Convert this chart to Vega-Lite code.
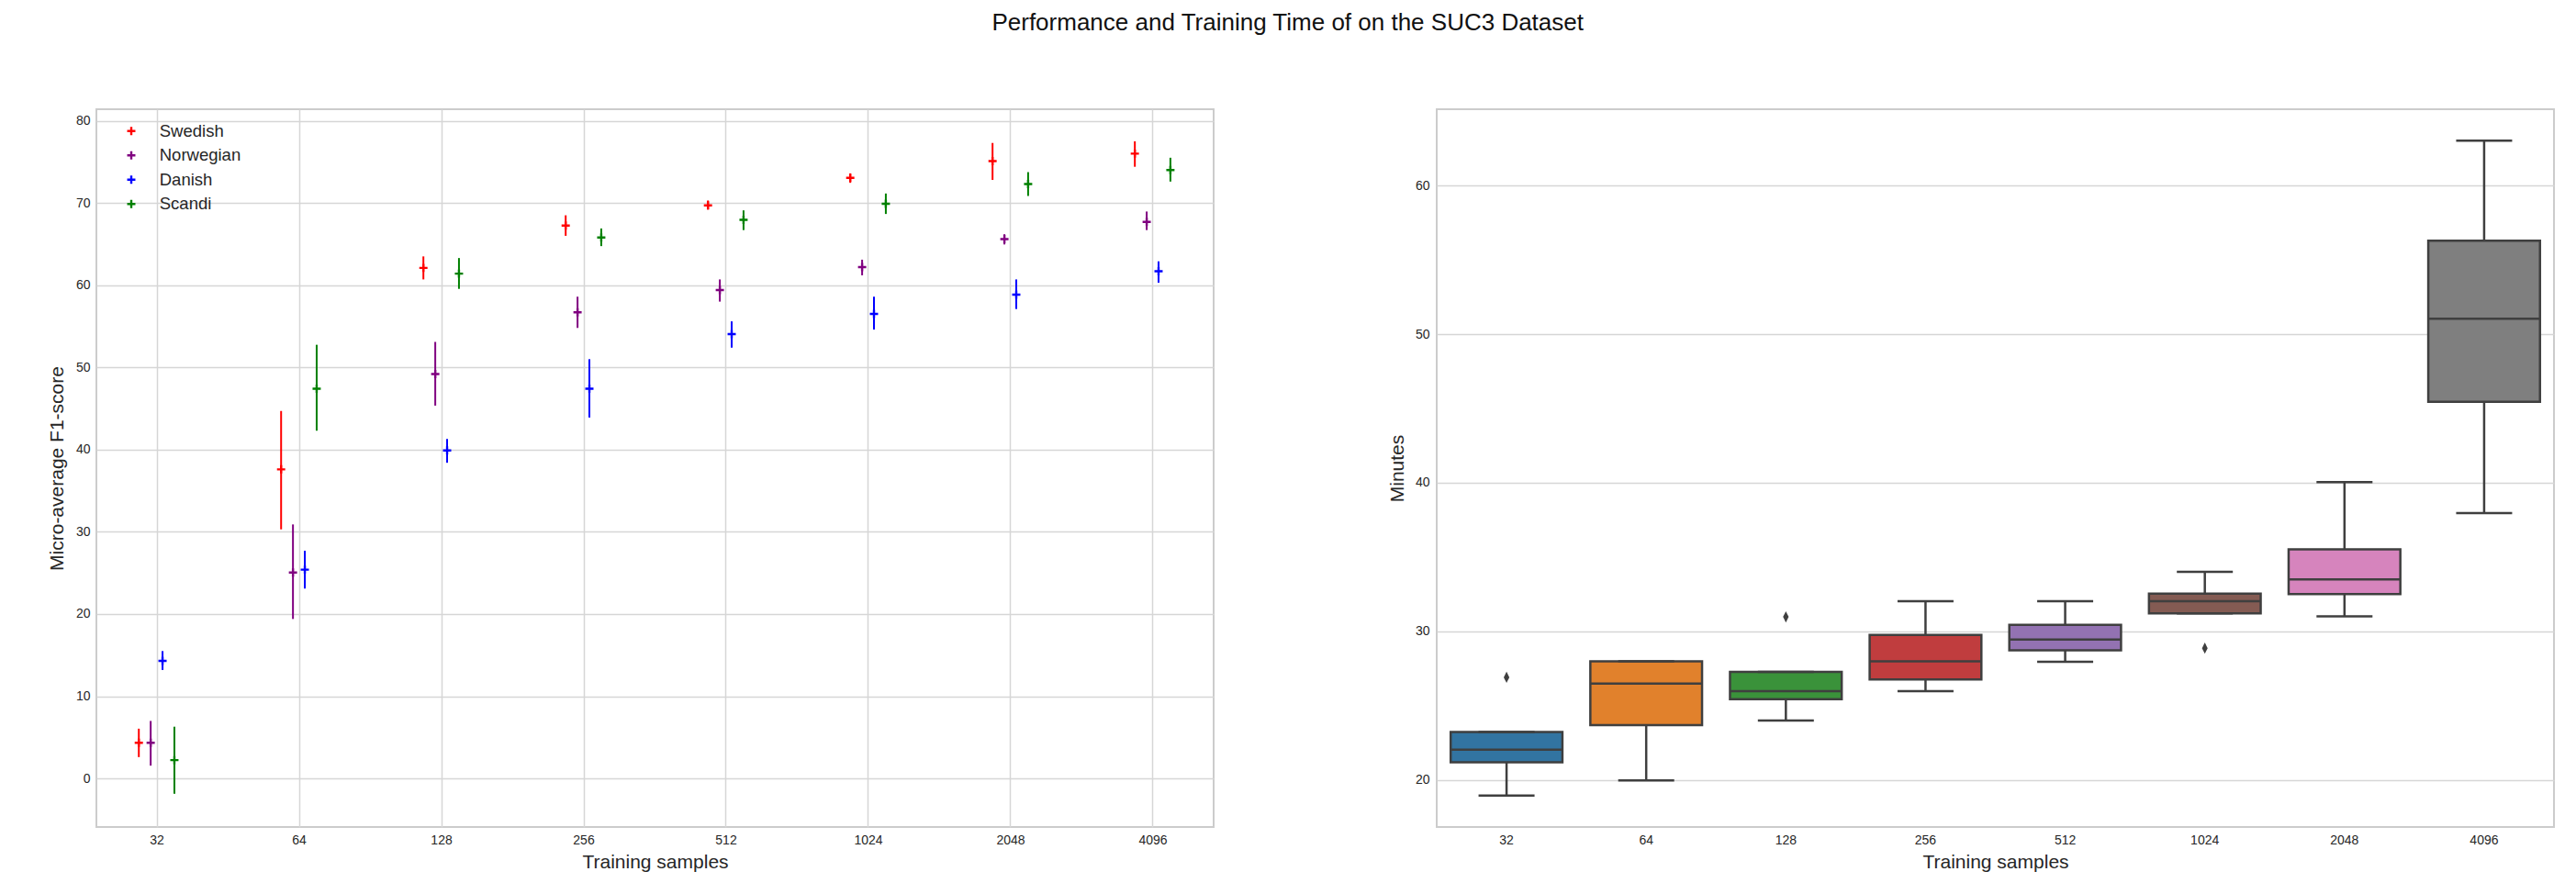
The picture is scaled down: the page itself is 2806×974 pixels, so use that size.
{
  "$schema": "https://vega.github.io/schema/vega-lite/v6.json",
  "background": "white",
  "padding": {"left": 50, "top": 12, "right": 25, "bottom": 5},
  "title": {"text": "Performance and Training Time of on the SUC3 Dataset", "fontSize": 26, "font": "Liberation Sans", "fontWeight": "normal", "color": "#111111", "anchor": "middle", "offset": 80, "dx": -14},
  "resolve": {"scale": {"color": "independent"}, "legend": {"color": "independent"}},
  "config": {
    "font": "Liberation Sans",
    "view": {"stroke": "#cccccc", "strokeWidth": 2},
    "axis": {"gridColor": "#d6d6d6", "gridWidth": 1.5, "domain": false, "ticks": false, "tickSize": 0, "labelFontSize": 14, "labelColor": "#262626", "titleFontSize": 21, "titleFontWeight": "normal", "titleColor": "#262626", "labelPadding": 7, "titlePadding": 10}
  },
  "datasets": {
    "scores": [
      {"samples": 32, "language": "Swedish", "mean": 4.35, "low": 2.6, "high": 6.06},
      {"samples": 32, "language": "Norwegian", "mean": 4.35, "low": 1.56, "high": 7.0},
      {"samples": 32, "language": "Danish", "mean": 14.3, "low": 13.2, "high": 15.5},
      {"samples": 32, "language": "Scandi", "mean": 2.23, "low": -1.86, "high": 6.3},
      {"samples": 64, "language": "Swedish", "mean": 37.6, "low": 30.3, "high": 44.7},
      {"samples": 64, "language": "Norwegian", "mean": 25.05, "low": 19.4, "high": 30.9},
      {"samples": 64, "language": "Danish", "mean": 25.4, "low": 23.1, "high": 27.7},
      {"samples": 64, "language": "Scandi", "mean": 47.4, "low": 42.3, "high": 52.75},
      {"samples": 128, "language": "Swedish", "mean": 62.1, "low": 60.7, "high": 63.5},
      {"samples": 128, "language": "Norwegian", "mean": 49.2, "low": 45.35, "high": 53.1},
      {"samples": 128, "language": "Danish", "mean": 39.9, "low": 38.4, "high": 41.3},
      {"samples": 128, "language": "Scandi", "mean": 61.4, "low": 59.55, "high": 63.3},
      {"samples": 256, "language": "Swedish", "mean": 67.25, "low": 66.0, "high": 68.5},
      {"samples": 256, "language": "Norwegian", "mean": 56.7, "low": 54.8, "high": 58.6},
      {"samples": 256, "language": "Danish", "mean": 47.4, "low": 43.9, "high": 51.0},
      {"samples": 256, "language": "Scandi", "mean": 65.8, "low": 64.75, "high": 66.9},
      {"samples": 512, "language": "Swedish", "mean": 69.7, "low": 69.2, "high": 70.3},
      {"samples": 512, "language": "Norwegian", "mean": 59.4, "low": 58.0, "high": 60.7},
      {"samples": 512, "language": "Danish", "mean": 54.05, "low": 52.4, "high": 55.6},
      {"samples": 512, "language": "Scandi", "mean": 67.95, "low": 66.7, "high": 69.1},
      {"samples": 1024, "language": "Swedish", "mean": 73.05, "low": 72.45, "high": 73.6},
      {"samples": 1024, "language": "Norwegian", "mean": 62.2, "low": 61.2, "high": 63.1},
      {"samples": 1024, "language": "Danish", "mean": 56.5, "low": 54.6, "high": 58.6},
      {"samples": 1024, "language": "Scandi", "mean": 69.9, "low": 68.66, "high": 71.15},
      {"samples": 2048, "language": "Swedish", "mean": 75.1, "low": 72.8, "high": 77.3},
      {"samples": 2048, "language": "Norwegian", "mean": 65.6, "low": 64.95, "high": 66.2},
      {"samples": 2048, "language": "Danish", "mean": 58.85, "low": 57.1, "high": 60.7},
      {"samples": 2048, "language": "Scandi", "mean": 72.3, "low": 70.85, "high": 73.75},
      {"samples": 4096, "language": "Swedish", "mean": 76.0, "low": 74.4, "high": 77.5},
      {"samples": 4096, "language": "Norwegian", "mean": 67.7, "low": 66.7, "high": 68.96},
      {"samples": 4096, "language": "Danish", "mean": 61.7, "low": 60.3, "high": 62.9},
      {"samples": 4096, "language": "Scandi", "mean": 74.0, "low": 72.6, "high": 75.5}
    ],
    "boxes": [
      {"samples": 32, "lower": 18.93, "q1": 21.18, "median": 22.02, "q3": 23.22, "upper": 23.22},
      {"samples": 64, "lower": 19.95, "q1": 23.68, "median": 26.47, "q3": 27.98, "upper": 27.98},
      {"samples": 128, "lower": 23.99, "q1": 25.43, "median": 25.97, "q3": 27.27, "upper": 27.27},
      {"samples": 256, "lower": 25.97, "q1": 26.76, "median": 27.98, "q3": 29.75, "upper": 32.02},
      {"samples": 512, "lower": 27.95, "q1": 28.72, "median": 29.44, "q3": 30.43, "upper": 32.02},
      {"samples": 1024, "lower": 31.2, "q1": 31.2, "median": 32.02, "q3": 32.54, "upper": 34.0},
      {"samples": 2048, "lower": 31.0, "q1": 32.5, "median": 33.49, "q3": 35.52, "upper": 40.05},
      {"samples": 4096, "lower": 37.95, "q1": 45.45, "median": 51.05, "q3": 56.3, "upper": 63.04}
    ],
    "outliers": [
      {"samples": 32, "value": 26.9},
      {"samples": 128, "value": 30.97},
      {"samples": 1024, "value": 28.86}
    ]
  },
  "hconcat": [
    {
      "width": 1217,
      "height": 782,
      "data": {"name": "scores"},
      "encoding": {
        "x": {"field": "samples", "type": "ordinal", "sort": [32, 64, 128, 256, 512, 1024, 2048, 4096],
              "scale": {"type": "band", "paddingInner": 0.5, "paddingOuter": 0.176},
              "axis": {"title": "Training samples", "labelAngle": 0, "grid": true, "bandPosition": 0.5, "titlePadding": 6}},
        "xOffset": {"field": "language", "type": "nominal", "sort": ["Swedish", "Norwegian", "Danish", "Scandi"],
                    "scale": {"type": "band", "paddingInner": 0, "paddingOuter": 3.05, "align": 0.483}},
        "color": {"field": "language", "type": "nominal", "sort": ["Swedish", "Norwegian", "Danish", "Scandi"],
                  "scale": {"domain": ["Swedish", "Norwegian", "Danish", "Scandi"], "range": ["#ff0000", "#800080", "#0000ff", "#008000"]},
                  "legend": {"title": null, "orient": "none", "legendX": 28.75, "legendY": 14.5, "padding": 0,
                             "symbolType": "M-1,0L1,0M0,-1L0,1", "symbolSize": 80, "symbolStrokeWidth": 2.4, "symbolFillColor": "transparent",
                             "labelFontSize": 18.5, "labelColor": "#262626", "rowPadding": 6.5, "labelOffset": 21.5}}
      },
      "layer": [
        {
          "mark": {"type": "rule", "strokeWidth": 2},
          "encoding": {
            "y": {"field": "low", "type": "quantitative", "scale": {"domain": [-5.9, 81.4], "nice": false, "zero": false},
                  "axis": {"title": "Micro-average F1-score", "values": [0, 10, 20, 30, 40, 50, 60, 70, 80]}},
            "y2": {"field": "high"}
          }
        },
        {
          "mark": {"type": "point", "shape": "M-1,0L1,0M0,-1L0,1", "filled": false, "strokeWidth": 2.4, "size": 80, "opacity": 1},
          "encoding": {
            "y": {"field": "mean", "type": "quantitative"}
          }
        }
      ]
    },
    {
      "width": 1217,
      "height": 782,
      "encoding": {
        "x": {"field": "samples", "type": "ordinal", "sort": [32, 64, 128, 256, 512, 1024, 2048, 4096],
              "scale": {"type": "band", "paddingInner": 0, "paddingOuter": 0},
              "axis": {"title": "Training samples", "labelAngle": 0, "grid": false, "titlePadding": 6}}
      },
      "layer": [
        {
          "data": {"name": "boxes"},
          "mark": {"type": "rule", "color": "#3f3f3f", "strokeWidth": 2.5},
          "encoding": {
            "y": {"field": "lower", "type": "quantitative", "scale": {"domain": [16.82, 65.15], "nice": false, "zero": false},
                  "axis": {"title": "Minutes", "values": [20, 30, 40, 50, 60], "grid": true, "labelPadding": 8, "titlePadding": 9}},
            "y2": {"field": "q1"}
          }
        },
        {
          "data": {"name": "boxes"},
          "mark": {"type": "rule", "color": "#3f3f3f", "strokeWidth": 2.5},
          "encoding": {
            "y": {"field": "q3", "type": "quantitative"},
            "y2": {"field": "upper"}
          }
        },
        {
          "data": {"name": "boxes"},
          "mark": {"type": "bar", "width": {"band": 0.8}, "stroke": "#3f3f3f", "strokeWidth": 2.5, "opacity": 1},
          "encoding": {
            "y": {"field": "q1", "type": "quantitative"},
            "y2": {"field": "q3"},
            "fill": {"field": "samples", "type": "ordinal", "sort": [32, 64, 128, 256, 512, 1024, 2048, 4096],
                      "scale": {"domain": [32, 64, 128, 256, 512, 1024, 2048, 4096], "range": ["#3274a1", "#e1812c", "#3a923a", "#c03d3e", "#9372b2", "#845b53", "#d684bd", "#7f7f7f"]},
                      "legend": null}
          }
        },
        {
          "data": {"name": "boxes"},
          "mark": {"type": "tick", "color": "#3f3f3f", "size": 121, "thickness": 2.5, "opacity": 1},
          "encoding": {"y": {"field": "median", "type": "quantitative"}}
        },
        {
          "data": {"name": "boxes"},
          "mark": {"type": "tick", "color": "#3f3f3f", "size": 61, "thickness": 2.5, "opacity": 1},
          "encoding": {"y": {"field": "lower", "type": "quantitative"}}
        },
        {
          "data": {"name": "boxes"},
          "mark": {"type": "tick", "color": "#3f3f3f", "size": 61, "thickness": 2.5, "opacity": 1},
          "encoding": {"y": {"field": "upper", "type": "quantitative"}}
        },
        {
          "data": {"name": "outliers"},
          "mark": {"type": "point", "shape": "M0,-1L0.5,0L0,1L-0.5,0Z", "filled": true, "color": "#3f3f3f", "size": 150, "opacity": 1},
          "encoding": {"y": {"field": "value", "type": "quantitative"}}
        }
      ]
    }
  ],
  "spacing": 187
}
